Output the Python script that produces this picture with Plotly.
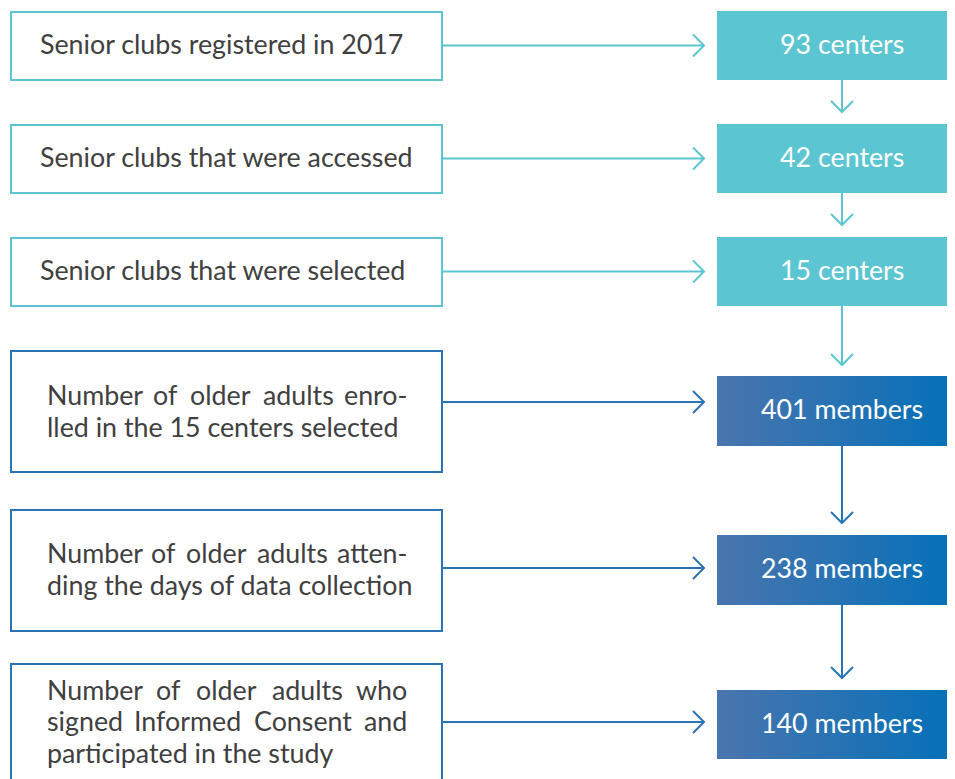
import plotly.graph_objects as go

# ---------------- data ----------------
stage_lines = [
    ["Senior clubs registered in 2017"],
    ["Senior clubs that were accessed"],
    ["Senior clubs that were selected"],
    ["Number of older adults enro-", "lled in the 15 centers selected"],
    ["Number of older adults atten-", "ding the days of data collection"],
    ["Number of older adults who", "signed Informed Consent and", "participated in the study"],
]
counts = [93, 42, 15, 401, 238, 140]
units = ["centers", "centers", "centers", "members", "members", "members"]
justified = [False, False, False, True, True, True]

# ---------------- layout / styles ----------------
W, H = 955, 779
OFF = 8  # page body margin
FONT = "Lato"
FS = 26.8
TEXT_COLOR = "#404040"
TEAL = "#5BC6D2"
BLUE_LINE = "#2A74B6"
GRAD = [[0, "#4A75AE"], [1, "#0070B9"]]

left_x0, left_x1 = 11, 442
left_boxes = [(12, 80), (125, 193), (238, 306), (351, 472), (510, 631), (664, 800)]
right_x0, right_x1 = 717, 970
right_boxes = [(11, 80), (124, 193), (237, 306), (376, 446), (535, 605), (690, 759)]
arrow_y = [45.5, 158.5, 271.5, 402, 568, 722]
arrow_tip_x = 704
vert_x = 842
text_x_plain = 38
text_x0, text_x1 = 45, 409
line_y = [[44], [157], [270], [395, 427], [553, 585], [690, 721, 753]]

# rough Lato advance widths (em)
CW = {' ': .193, 'a': .50, 'b': .56, 'c': .46, 'd': .56, 'e': .52, 'f': .32, 'g': .50,
      'h': .56, 'i': .24, 'j': .24, 'k': .50, 'l': .24, 'm': .84, 'n': .56, 'o': .56,
      'p': .56, 'q': .56, 'r': .36, 's': .42, 't': .35, 'u': .56, 'v': .50, 'w': .76,
      'x': .49, 'y': .50, 'z': .45, 'N': .74, 'I': .28, 'C': .67, 'S': .51, '-': .33}


def wwidth(word):
    return sum(CW.get(c, .56) for c in word) * FS


fig = go.Figure()
shapes = []
annotations = []

for k in range(len(counts)):
    col_line = TEAL if k < 3 else BLUE_LINE
    # left box
    y0, y1 = left_boxes[k]
    shapes.append(dict(type="rect", x0=left_x0, x1=left_x1, y0=y0, y1=y1,
                       line=dict(color=col_line, width=2), fillcolor="white", layer="below"))
    # right box
    ry0, ry1 = right_boxes[k]
    if k < 3:
        shapes.append(dict(type="rect", x0=right_x0, x1=right_x1, y0=ry0, y1=ry1,
                           line=dict(width=0), fillcolor=TEAL, layer="below"))
    else:
        fig.add_trace(go.Scatter(
            x=[right_x0, right_x1, right_x1, right_x0, right_x0],
            y=[ry0, ry0, ry1, ry1, ry0], mode="lines", fill="toself",
            line=dict(width=0), fillgradient=dict(type="horizontal", colorscale=GRAD),
            hoverinfo="skip", showlegend=False))
    annotations.append(dict(x=vert_x, y=(ry0 + ry1) / 2 - 2, text=f"{counts[k]} {units[k]}",
                            showarrow=False, xanchor="center", yanchor="middle",
                            font=dict(family=FONT, size=FS, color="white")))
    # horizontal arrow
    ay = arrow_y[k]
    shapes.append(dict(type="path",
                       path=f"M {left_x1},{ay} L {arrow_tip_x},{ay} M {arrow_tip_x-11},{ay-11} L {arrow_tip_x},{ay} L {arrow_tip_x-11},{ay+11}",
                       line=dict(color=col_line, width=2)))
    # vertical arrow to next
    if k < len(counts) - 1:
        top = ry1
        tip = right_boxes[k + 1][0] - 12 if k != 2 else right_boxes[k + 1][0] - 11
        vcol = TEAL if k < 3 else BLUE_LINE
        shapes.append(dict(type="path",
                           path=f"M {vert_x},{top} L {vert_x},{tip} M {vert_x-11},{tip-11} L {vert_x},{tip} L {vert_x+11},{tip-11}",
                           line=dict(color=vcol, width=2)))
    # left text
    lines = stage_lines[k]
    for j, line in enumerate(lines):
        ly = line_y[k][j]
        if not justified[k]:
            annotations.append(dict(x=text_x_plain, y=ly, text=line, showarrow=False,
                                    xanchor="left", yanchor="middle",
                                    font=dict(family=FONT, size=FS, color=TEXT_COLOR)))
        elif j == len(lines) - 1:
            annotations.append(dict(x=text_x0, y=ly, text=line, showarrow=False,
                                    xanchor="left", yanchor="middle",
                                    font=dict(family=FONT, size=FS, color=TEXT_COLOR)))
        else:
            words = line.split(" ")
            ws = [wwidth(w) for w in words]
            gap = (text_x1 - text_x0 - sum(ws)) / (len(words) - 1)
            pos = text_x0
            for i, (w, wl) in enumerate(zip(words, ws)):
                if i == 0:
                    x, anc = text_x0, "left"
                elif i == len(words) - 1:
                    x, anc = text_x1, "right"
                else:
                    x, anc = pos + wl / 2, "center"
                annotations.append(dict(x=x, y=ly, text=w, showarrow=False,
                                        xanchor=anc, yanchor="middle",
                                        font=dict(family=FONT, size=FS, color=TEXT_COLOR)))
                pos += wl + gap

fig.update_layout(
    width=W - OFF, height=H - OFF, margin=dict(l=0, r=0, t=0, b=0),
    paper_bgcolor="white", plot_bgcolor="white",
    xaxis=dict(range=[OFF, W], visible=False, fixedrange=True),
    yaxis=dict(range=[H, OFF], visible=False, fixedrange=True),
    shapes=shapes, annotations=annotations, showlegend=False,
)
fig.write_html("out.html")
